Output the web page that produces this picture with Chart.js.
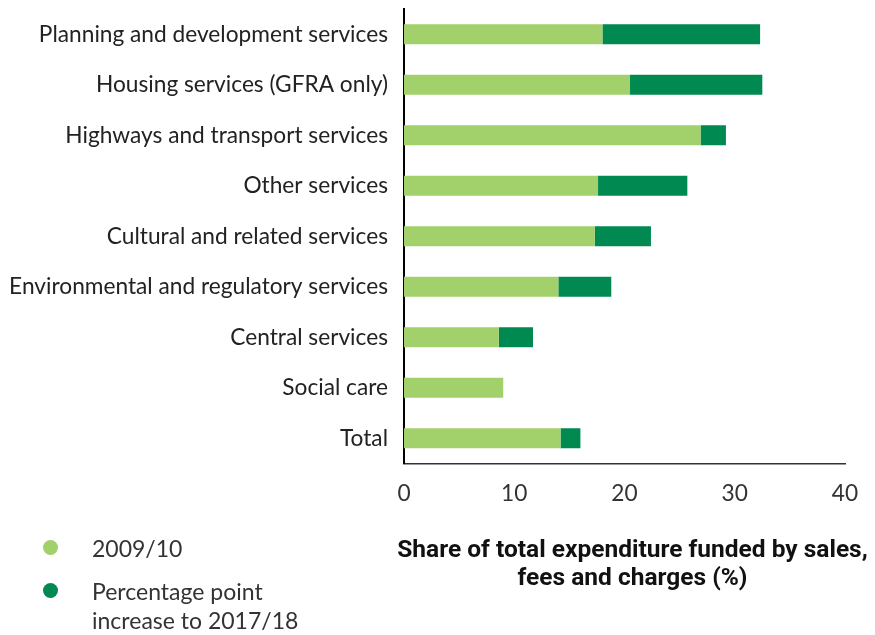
<!DOCTYPE html>
<html>
<head>
<meta charset="utf-8">
<title>Sales, fees and charges</title>
<script src="https://cdn.jsdelivr.net/npm/chart.js@4.4.0/dist/chart.umd.min.js"></script>
<style>
  html, body { margin: 0; padding: 0; background: #fff; }
  #wrap { width: 875px; height: 635px; position: relative; }
</style>
</head>
<body>
<div id="wrap"><canvas id="chart"></canvas></div>
<script>
const categories = [
  "Planning and development services",
  "Housing services (GFRA only)",
  "Highways and transport services",
  "Other services",
  "Cultural and related services",
  "Environmental and regulatory services",
  "Central services",
  "Social care",
  "Total",
];
const share200910 = [18.0, 20.5, 26.9, 17.6, 17.3, 14.0, 8.6, 9.0, 14.2];
const increaseTo201718 = [14.3, 12.0, 2.3, 8.1, 5.1, 4.8, 3.1, 0, 1.8];
const xTicks = [0, 10, 20, 30, 40];
const seriesLabels = ["2009/10", "Percentage point increase to 2017/18"];
const axisTitle = ["Share of total expenditure funded by sales,", "fees and charges (%)"];

const lightGreen = "#a2d06a";
const darkGreen = "#008a52";
const labelFont = { family: "Lato, 'Open Sans', sans-serif", size: 22.7 };

// Legend in the bottom left corner, axis title under the x ticks
const footer = {
  id: "footer",
  afterDraw(chart) {
    const ctx = chart.ctx;
    const rows = [547.5, 590.5];
    ctx.save();
    ctx.font = "23px Lato, 'Open Sans', sans-serif";
    ctx.textBaseline = "middle";
    chart.data.datasets.forEach((ds, i) => {
      ctx.fillStyle = ds.backgroundColor;
      ctx.beginPath();
      ctx.arc(50.5, rows[i], 7.5, 0, Math.PI * 2);
      ctx.fill();

      // wrap long labels onto a second line
      const words = ds.label.split(" ");
      const lines = [];
      let line = "";
      words.forEach((w) => {
        const test = line ? line + " " + w : w;
        if (ctx.measureText(test).width > 235 && line) {
          lines.push(line);
          line = w;
        } else {
          line = test;
        }
      });
      lines.push(line);

      ctx.fillStyle = "#333";
      lines.forEach((l, j) => ctx.fillText(l, 92, rows[i] + 2.5 + j * 29));
    });

    const { left, right } = chart.chartArea;
    const cx = (left + right) / 2 + 8;
    ctx.font = "bold 24.5px Roboto, sans-serif";
    ctx.fillStyle = "#111";
    ctx.textAlign = "center";
    axisTitle.forEach((t, j) => ctx.fillText(t, cx, 551 + j * 28));
    ctx.restore();
  },
};

new Chart(document.getElementById("chart"), {
  type: "bar",
  data: {
    labels: categories,
    datasets: [
      {
        label: seriesLabels[0],
        data: share200910,
        backgroundColor: lightGreen,
        barPercentage: 0.8,
        categoryPercentage: 0.5,
      },
      {
        label: seriesLabels[1],
        data: increaseTo201718,
        backgroundColor: darkGreen,
        barPercentage: 0.8,
        categoryPercentage: 0.5,
      },
    ],
  },
  options: {
    indexAxis: "y",
    responsive: true,
    maintainAspectRatio: false,
    animation: false,
    layout: {
      padding: { top: 9, right: 30, left: 0, bottom: 0 },
    },
    scales: {
      x: {
        stacked: true,
        min: 0,
        max: 40,
        afterBuildTicks(scale) {
          scale.ticks = xTicks.map((v) => ({ value: v }));
        },
        afterFit(scale) {
          scale.height = 171.5;
          scale.paddingLeft = 0;
          scale.paddingRight = 0;
        },
        grid: { display: false },
        border: { display: true, color: "#333", width: 1.5 },
        ticks: {
          color: "#333",
          font: labelFont,
          padding: 9,
          maxRotation: 0,
        },
      },
      y: {
        stacked: true,
        afterFit(scale) {
          scale.width = 404;
          scale.paddingTop = 0;
          scale.paddingBottom = 0;
        },
        grid: { display: false },
        border: { display: true, color: "#000", width: 2 },
        ticks: {
          color: "#222",
          font: labelFont,
          padding: 8,
        },
      },
    },
    plugins: {
      legend: { display: false },
      tooltip: { enabled: true },
    },
  },
  plugins: [footer],
});
</script>
</body>
</html>
